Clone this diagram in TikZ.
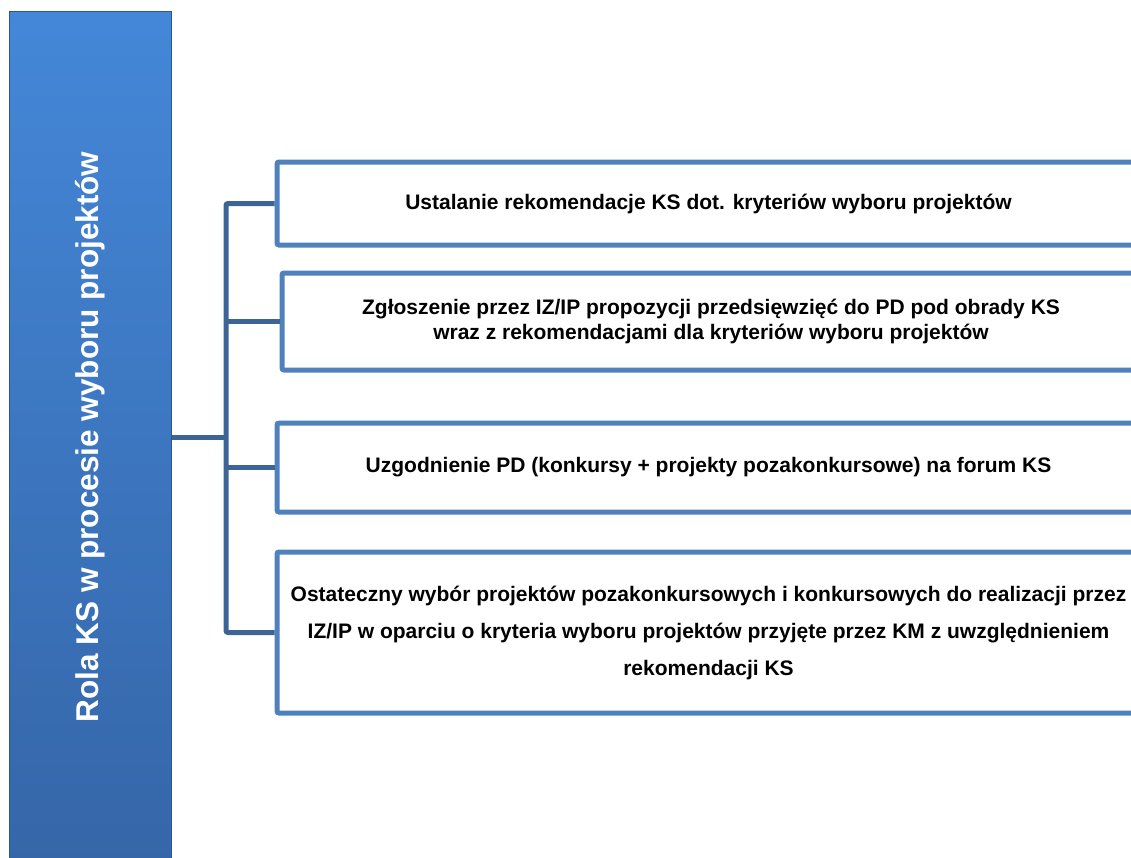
\documentclass[tikz,border=0pt]{standalone}
\usepackage{fontspec}
\setmainfont{Liberation Sans}
\usepackage{xcolor}
\usetikzlibrary{positioning,calc}

\definecolor{boxblue}{HTML}{4F81BD}
\definecolor{linkblue}{HTML}{3D6496}
\definecolor{bartop}{HTML}{4487D8}
\definecolor{barbottom}{HTML}{3566A8}

\begin{document}
\begin{tikzpicture}[
                x=1pt, y=-1pt,
                bar/.style={draw=barbottom!85!black, line width=1pt, top color=bartop, bottom color=barbottom, text=white, rotate=90, minimum width=852, minimum height=162, font=\fontsize{31.5}{36}\selectfont\bfseries},
                stage/.style={draw=boxblue, line width=5pt, rounded corners=2pt, fill=white, align=center, inner sep=0pt, font=\fontsize{21}{25}\selectfont\bfseries},
                link/.style={draw=linkblue, line width=5pt, rounded corners=2pt}
            ]
            \useasboundingbox (0,0) rectangle (1131,857);
            \node[bar] (role) at (90,437) {Rola KS w procesie wyboru projektów};
            \node[stage, minimum width=863, minimum height=83] (s1) at (708.5,203.5) {Ustalanie rekomendacje KS dot. kryteriów wyboru projektów};
            \node[stage, minimum width=858, minimum height=97] (s2) at (711,321.5) {Zgłoszenie przez IZ/IP propozycji przedsięwzięć do PD pod obrady KS\\wraz z rekomendacjami dla kryteriów wyboru projektów};
            \node[stage, minimum width=863, minimum height=89] (s3) at (708.5,467.5) {Uzgodnienie PD (konkursy + projekty pozakonkursowe) na forum KS};
            \node[stage, minimum width=863, minimum height=161, font=\fontsize{21}{37}\selectfont\bfseries] (s4) at (708.5,632.5) {Ostateczny wybór projektów pozakonkursowych i konkursowych do realizacji przez\\IZ/IP w oparciu o kryteria wyboru projektów przyjęte przez KM z uwzględnieniem\\rekomendacji KS};
            \coordinate (spine) at (226,437);
            \draw[link] (role.south) -- (role.south -| spine);
            \draw[link] (s1.west) -- (s1.west -| spine) -- (s4.west -| spine) -- (s4.west);
            \draw[link] (s2.west) -- (s2.west -| spine);
            \draw[link] (s3.west) -- (s3.west -| spine);
\end{tikzpicture}
\end{document}
